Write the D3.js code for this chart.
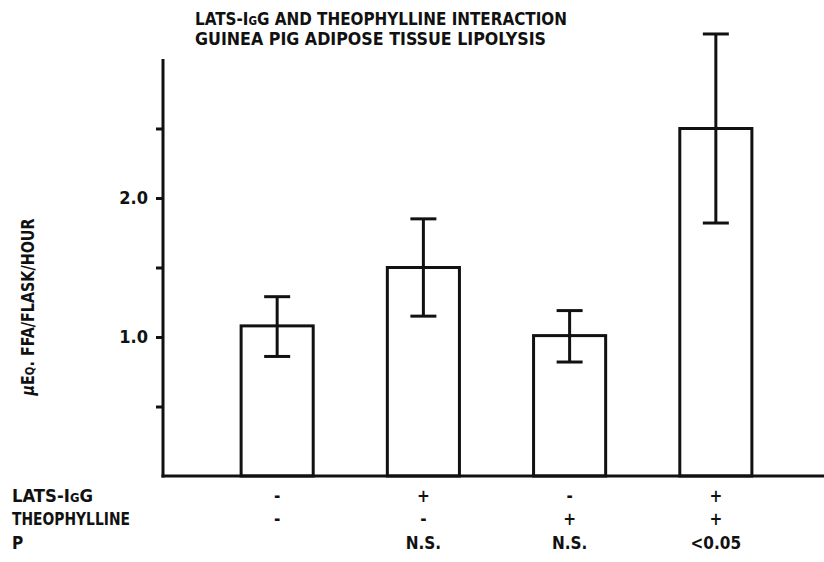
<!DOCTYPE html>
<html>
<head>
<meta charset="utf-8">
<script src="https://cdn.jsdelivr.net/npm/d3@7"></script>
<style>
  html, body { margin: 0; padding: 0; background: #fff; }
  svg { display: block; }
  text { font-family: "DejaVu Sans Condensed", "DejaVu Sans", sans-serif; fill: #111; font-weight: bold; }
</style>
</head>
<body>
<svg id="chart" width="824" height="562"></svg>
<script>
// Lipolysis groups (µEq FFA / flask / hour), mean with error-bar limits
const groups = ["control", "lats", "theo", "lats_theo"];
const means = [1.08, 1.50, 1.01, 2.50];
const errLow = [0.86, 1.15, 0.82, 1.82];
const errHigh = [1.29, 1.85, 1.19, 3.18];

// Treatment table under the bars
const latsRow = ["-", "+", "-", "+"];
const theoRow = ["-", "-", "+", "+"];
const pRow = ["", "N.S.", "N.S.", "<0.05"];

const yTicks = [0.5, 1.0, 1.5, 2.0, 2.5];
const yLabeled = [1.0, 2.0];

const titleLines = ["LATS-IgG AND THEOPHYLLINE INTERACTION", "GUINEA PIG ADIPOSE TISSUE LIPOLYSIS"];

const svg = d3.select("#chart");
const axisX = 163, baseY = 476;

const x = d3.scaleBand().domain(groups).range([168, 825]).paddingInner(0.507).paddingOuter(0.5);
const y = d3.scaleLinear().domain([0, 3]).range([baseY, 59]);

// Title
const title = svg.append("text").attr("font-size", 17.5).style("font-variant", "small-caps");
titleLines.forEach((t, i) => {
  title.append("tspan").attr("x", 195).attr("y", 25 + i * 20)
    .attr("textLength", i === 0 ? 372 : 351).attr("lengthAdjust", "spacingAndGlyphs").text(t);
});

// Y axis
const yAxis = d3.axisLeft(y).tickValues(yTicks).tickSize(7).tickPadding(8)
  .tickFormat(d => yLabeled.includes(d) ? d3.format(".1f")(d) : "");
const gy = svg.append("g").attr("transform", `translate(${axisX},0)`).call(yAxis);
gy.select(".domain").remove();
gy.selectAll(".tick line").attr("stroke", "#111").attr("stroke-width", 3);
gy.selectAll(".tick text").attr("font-size", 18).attr("font-family", "DejaVu Sans Condensed")
  .attr("font-weight", "bold").attr("fill", "#111");
svg.append("line").attr("x1", axisX).attr("x2", axisX).attr("y1", baseY + 1.5).attr("y2", y(3))
  .attr("stroke", "#111").attr("stroke-width", 3);

// Y axis title
const yt = svg.append("text").attr("transform", "translate(34,307) rotate(-90)")
  .attr("text-anchor", "middle").attr("font-size", 17)
  .attr("textLength", 177).attr("lengthAdjust", "spacingAndGlyphs");
yt.append("tspan").attr("font-style", "italic").text("μ");
yt.append("tspan").style("font-variant", "small-caps").text("Eq. FFA/FLASK/HOUR");

// Bars
svg.append("g").selectAll("rect").data(groups).join("rect")
  .attr("x", d => x(d)).attr("width", x.bandwidth())
  .attr("y", (d, i) => y(means[i])).attr("height", (d, i) => baseY - y(means[i]))
  .attr("fill", "#fff").attr("stroke", "#111").attr("stroke-width", 3);

// Baseline
svg.append("line").attr("x1", axisX - 1.5).attr("x2", 824).attr("y1", baseY).attr("y2", baseY)
  .attr("stroke", "#111").attr("stroke-width", 3);

// Error bars
const cap = 13;
const eg = svg.append("g").attr("stroke", "#111").attr("stroke-width", 3);
groups.forEach((g, i) => {
  const cx = x(g) + x.bandwidth() / 2;
  eg.append("line").attr("x1", cx).attr("x2", cx).attr("y1", y(errLow[i])).attr("y2", y(errHigh[i]));
  eg.append("line").attr("x1", cx - cap).attr("x2", cx + cap).attr("y1", y(errHigh[i])).attr("y2", y(errHigh[i]));
  eg.append("line").attr("x1", cx - cap).attr("x2", cx + cap).attr("y1", y(errLow[i])).attr("y2", y(errLow[i]));
});

// Treatment table
const rowNames = ["LATS-IgG", "THEOPHYLLINE", "P"];
const rowLen = [81, 118, null];
const rows = [latsRow, theoRow, pRow];
const rowY = [502, 525, 549];
rowNames.forEach((name, r) => {
  const t = svg.append("text").attr("x", 12).attr("y", rowY[r]).attr("font-size", 17)
    .style("font-variant", "small-caps").text(name);
  if (rowLen[r]) t.attr("textLength", rowLen[r]).attr("lengthAdjust", "spacingAndGlyphs");
  svg.append("g").selectAll("text").data(groups).join("text")
    .attr("x", d => x(d) + x.bandwidth() / 2).attr("y", rowY[r])
    .attr("text-anchor", "middle").attr("font-size", 17)
    .text((d, i) => rows[r][i]);
});
</script>
</body>
</html>
